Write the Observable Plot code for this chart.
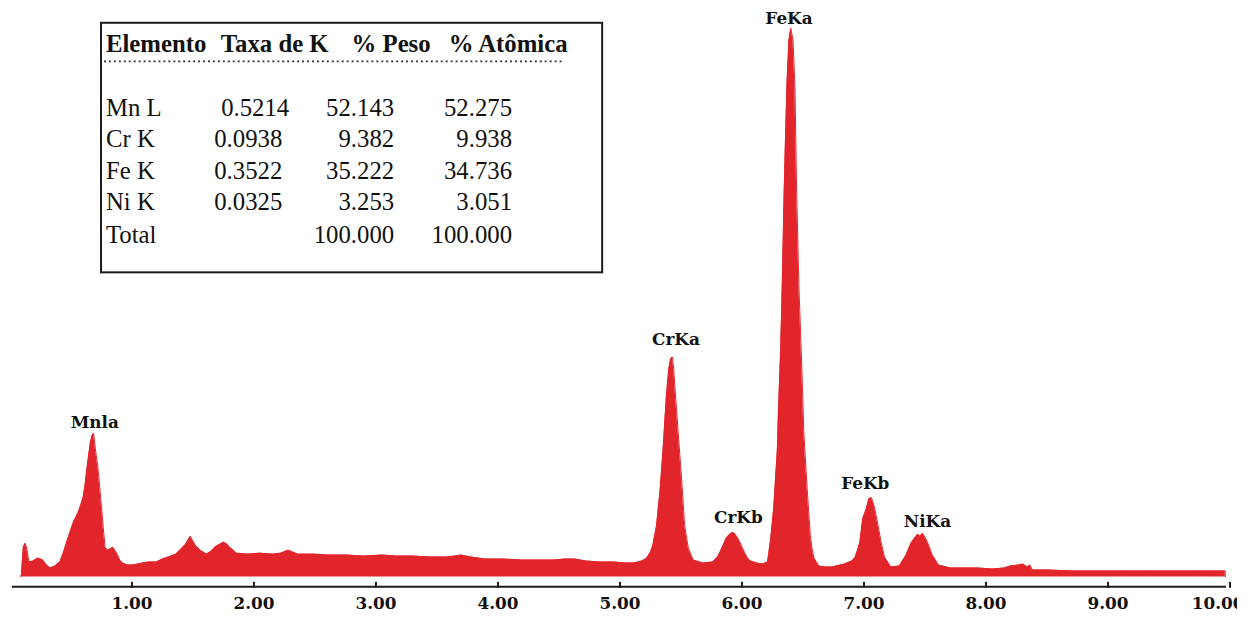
<!DOCTYPE html>
<html>
<head>
<meta charset="utf-8">
<script src="https://cdn.jsdelivr.net/npm/d3@7"></script>
<script src="https://cdn.jsdelivr.net/npm/@observablehq/plot@0.6"></script>
<style>
  html, body { margin: 0; padding: 0; background: #fff; }
  #wrap { position: relative; width: 1237px; height: 621px; overflow: hidden; }
</style>
</head>
<body>
<div id="wrap"></div>
<script>
// ---- Spectrum (energy in keV, counts in arbitrary units) ----
const energy = [
  0.09, 0.095, 0.11, 0.125, 0.14, 0.155, 0.19, 0.23, 0.27, 0.30, 0.33, 0.37, 0.41, 0.44, 0.465, 0.49,
  0.52, 0.54, 0.56, 0.585, 0.60, 0.615, 0.63, 0.645, 0.66, 0.675, 0.686, 0.70, 0.71, 0.72, 0.735, 0.75,
  0.765, 0.78, 0.80, 0.82, 0.843, 0.86, 0.883, 0.90, 0.924, 0.96, 1.005, 1.05, 1.086, 1.14, 1.20, 1.25,
  1.30, 1.36, 1.41, 1.44, 1.478, 1.50, 1.52, 1.56, 1.61, 1.65, 1.68, 1.72, 1.75, 1.78, 1.80, 1.83,
  1.857, 1.95, 2.05, 2.15, 2.22, 2.28, 2.32, 2.36, 2.50, 2.60, 2.76, 2.90, 3.05, 3.17, 3.30, 3.45,
  3.57, 3.65, 3.70, 3.78, 3.90, 4.05, 4.20, 4.30, 4.45, 4.55, 4.63, 4.72, 4.84, 4.95, 5.05, 5.115,
  5.18, 5.22, 5.25, 5.27, 5.30, 5.33, 5.355, 5.38, 5.40, 5.415, 5.43, 5.44, 5.45, 5.475, 5.505, 5.53,
  5.56, 5.60, 5.68, 5.76, 5.80, 5.82, 5.85, 5.87, 5.90, 5.925, 5.945, 5.966, 5.99, 6.02, 6.045, 6.07,
  6.12, 6.17, 6.21, 6.236, 6.26, 6.29, 6.30, 6.317, 6.33, 6.345, 6.357, 6.37, 6.385, 6.40, 6.418, 6.434,
  6.447, 6.466, 6.49, 6.507, 6.534, 6.56, 6.575, 6.59, 6.615, 6.63, 6.68, 6.74, 6.84, 6.90, 6.925, 6.95,
  6.966, 6.99, 7.02, 7.04, 7.06, 7.075, 7.088, 7.115, 7.14, 7.168, 7.22, 7.29, 7.345, 7.385, 7.42, 7.44,
  7.46, 7.48, 7.50, 7.52, 7.56, 7.61, 7.71, 7.80, 7.93, 8.05, 8.15, 8.20, 8.27, 8.30, 8.34, 8.36,
  8.38, 8.50, 8.70, 8.90, 9.10, 9.30, 9.50, 9.70, 9.96, 9.961
];
const counts = [
  0, 3, 30, 34, 28, 15, 16, 19, 17, 12, 9, 11, 15, 25, 35, 44,
  55, 60, 65, 74, 80, 92, 108, 122, 136, 143, 145, 130, 120, 112, 92, 72,
  50, 30, 27, 28, 30, 27, 22, 17, 14, 12, 12, 13, 14, 15, 15, 18,
  20, 23, 29, 33, 41, 36, 32, 27, 23, 26, 30, 33, 35, 33, 30, 27,
  24, 23, 24, 23, 24, 27, 25, 23, 23, 22, 22, 21, 22, 21, 21, 20,
  20, 21, 22, 20, 18, 18, 17, 17, 17, 18, 18, 16, 15, 15, 14, 14,
  16, 19, 25, 32, 52, 89, 132, 182, 210, 220, 222, 210, 192, 149, 99, 52,
  29, 17, 14, 15, 20, 25, 33, 39, 43, 45, 43, 39, 33, 25, 19, 16,
  14, 13, 15, 39, 69, 129, 172, 229, 295, 385, 445, 502, 542, 554, 542, 495,
  395, 295, 212, 145, 89, 42, 28, 19, 14, 11, 10, 10, 13, 16, 19, 28,
  35, 59, 69, 79, 80, 75, 69, 52, 35, 20, 10, 11, 22, 34, 40, 43,
  41, 44, 40, 35, 22, 12, 9, 9, 9, 8, 9, 11, 12, 13, 10, 12,
  7, 7, 6, 6, 6, 6, 6, 6, 6, 0
];

// ---- Peak labels ----
const peakNames  = ["Mnla", "CrKa", "CrKb", "FeKa", "FeKb", "NiKa"];
const peakEnergy = [0.695, 5.459, 5.97, 6.385, 7.01, 7.52];
const peakLabelY = [150, 234, 54, 558, 89, 50];

// ---- Axis ----
const tickValues = [1, 2, 3, 4, 5, 6, 7, 8, 9, 10];
const xDomain = [0, 10];
const axisExtent = [0.02, 9.97];
const axisLevel = -10;

// ---- Quantification table ----
const tableHeader = ["Elemento", "Taxa de K", "% Peso", "% Atômica"];
const elements   = ["Mn L", "Cr K", "Fe K", "Ni K", "Total"];
const kRatio     = ["0.5214", "0.0938", "0.3522", "0.0325", ""];
const weightPct  = ["52.143", "9.382", "35.222", "3.253", "100.000"];
const atomicPct  = ["52.275", "9.938", "34.736", "3.051", "100.000"];

const spectrum = energy.map((e, i) => ({energy: e, counts: counts[i]}));
const peaks = peakNames.map((n, i) => ({name: n, energy: peakEnergy[i], y: peakLabelY[i]}));

const RED = "#e2252b";
const labelFont = {fontFamily: "'DejaVu Serif', serif", fontWeight: "bold", fontSize: 17, fill: "#111"};

const svg = Plot.plot({
  width: 1249,
  height: 621,
  marginLeft: 9.5,
  marginRight: 7.5,
  marginTop: 29,
  marginBottom: 29,
  x: {domain: xDomain, axis: null, label: null},
  y: {domain: [axisLevel, 553], axis: null},
  style: {background: "white", overflow: "visible"},
  marks: [
    Plot.areaY(spectrum, {x: "energy", y: "counts", fill: RED}),
    Plot.lineY(spectrum, {x: "energy", y: "counts", stroke: RED, strokeWidth: 1}),
    Plot.ruleY([axisLevel], {x1: axisExtent[0], x2: axisExtent[1], stroke: "#1a1a1a", strokeWidth: 2}),
    Plot.ruleX(tickValues, {x: d => d, y1: axisLevel - 1.5, y2: axisLevel + 4.5, stroke: "#1a1a1a", strokeWidth: 2}),
    Plot.axisX(tickValues.slice(0, 9), {label: null, tickSize: 0, tickPadding: 10, tickFormat: d3.format(".2f"), ...labelFont}),
    Plot.axisX(tickValues.slice(9), {label: null, tickSize: 0, tickPadding: 10, dx: -12, tickFormat: d3.format(".2f"), ...labelFont}),
    Plot.text(peaks, {x: "energy", y: "y", text: "name", lineAnchor: "bottom", ...labelFont})
  ]
});

// Table overlay drawn in the same SVG
const g = d3.select(svg).append("g")
  .attr("font-family", "'Liberation Serif', 'Times New Roman', serif")
  .attr("fill", "#111")
  .attr("text-anchor", "start");
g.append("rect").attr("x", 102).attr("y", 23).attr("width", 506).attr("height", 252)
  .attr("fill", "white").attr("stroke", "#1a1a1a").attr("stroke-width", 2);
const headerX = [107, 223, 355, 453];
tableHeader.forEach((t, i) => {
  g.append("text").attr("x", headerX[i]).attr("y", 53).attr("font-size", 25)
    .attr("font-weight", "bold").attr("text-anchor", "start").text(t);
});
g.append("line").attr("x1", 105).attr("x2", 567).attr("y1", 62).attr("y2", 62)
  .attr("stroke", "#333").attr("stroke-width", 1.6).attr("stroke-dasharray", "2,3");
const rowY = [117, 148.5, 181, 212.5, 245];
const cols = [
  {vals: elements, x: 107, anchor: "start"},
  {vals: kRatio, x: 285, anchor: "end"},
  {vals: weightPct, x: 398, anchor: "end"},
  {vals: atomicPct, x: 517, anchor: "end"}
];
cols.forEach(c => {
  c.vals.forEach((v, r) => {
    g.append("text").attr("x", c.x + (c.vals === kRatio && r === 0 ? 7 : 0)).attr("y", rowY[r])
      .attr("font-size", 25).attr("text-anchor", c.anchor).text(v);
  });
});

document.getElementById("wrap").appendChild(svg);
</script>
</body>
</html>
